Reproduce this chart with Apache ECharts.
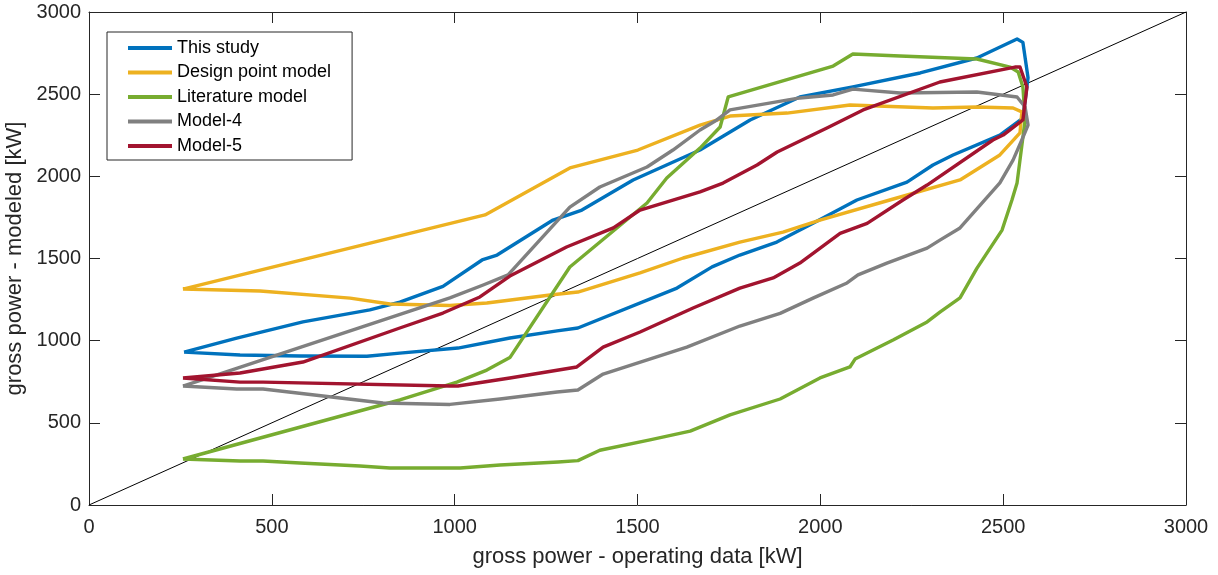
<!DOCTYPE html>
<html>
<head>
<meta charset="utf-8">
<script src="https://cdn.jsdelivr.net/npm/echarts@6/dist/echarts.min.js"></script>
<style>
html,body{margin:0;padding:0;background:#fff;}
#chart{width:1218px;height:575px;}
</style>
</head>
<body>
<div id="chart"></div>
<script>
// Tick values
const xTicks = [0, 500, 1000, 1500, 2000, 2500, 3000];
const yTicks = [0, 500, 1000, 1500, 2000, 2500, 3000];

// Series names
const seriesNames = ['This study', 'Design point model', 'Literature model', 'Model-4', 'Model-5'];

// [operating data kW, modeled kW] loops
const thisStudy = [[260,930],[413,913],[577,907],[760,905],[850,924],[1009,955],[1151,1016],[1280,1060],[1337,1077],[1608,1320],[1704,1449],[1780,1521],[1881,1600],[1980,1714],[2100,1856],[2237,1965],[2308,2069],[2363,2130],[2491,2251],[2554,2355],[2568,2600],[2554,2815],[2538,2836],[2428,2720],[2273,2629],[2089,2544],[1944,2483],[1808,2343],[1671,2160],[1488,1978],[1348,1795],[1269,1734],[1116,1521],[1075,1491],[968,1330],[850,1235],[768,1187],[585,1114],[404,1016],[260,930]];

const designPoint = [[257,1314],[468,1302],[714,1259],[823,1223],[987,1214],[1088,1229],[1261,1278],[1337,1296],[1507,1412],[1625,1503],[1780,1600],[1898,1661],[1999,1734],[2190,1856],[2382,1978],[2491,2130],[2546,2264],[2551,2392],[2527,2416],[2428,2422],[2308,2416],[2081,2434],[1909,2385],[1753,2367],[1671,2312],[1501,2160],[1315,2051],[1083,1765],[257,1314]];

const literature = [[257,280],[413,268],[476,268],[577,256],[741,237],[823,225],[1015,225],[1124,243],[1283,262],[1337,270],[1397,333],[1534,396],[1644,450],[1753,548],[1890,645],[1999,773],[2081,840],[2095,888],[2199,1004],[2292,1114],[2327,1174],[2382,1260],[2428,1440],[2497,1673],[2524,1856],[2538,1960],[2560,2343],[2554,2544],[2541,2635],[2519,2665],[2428,2714],[2218,2732],[2089,2744],[2035,2671],[1748,2483],[1726,2300],[1671,2172],[1580,1990],[1526,1838],[1315,1448],[1151,897],[1088,821],[1006,748],[850,639],[257,280]];

const model4 = [[257,724],[404,706],[476,706],[804,621],[987,612],[1124,645],[1280,688],[1337,700],[1406,797],[1635,961],[1780,1089],[1890,1166],[1980,1259],[2073,1351],[2103,1400],[2182,1472],[2292,1563],[2327,1612],[2382,1686],[2491,1960],[2527,2099],[2551,2221],[2568,2312],[2560,2422],[2538,2483],[2428,2513],[2218,2507],[2089,2531],[2035,2495],[1944,2477],[1753,2404],[1717,2343],[1671,2282],[1597,2160],[1526,2057],[1397,1935],[1315,1813],[1146,1400],[1078,1339],[987,1260],[257,724]];

const model5 = [[257,773],[413,748],[476,748],[987,724],[1009,724],[1151,773],[1334,840],[1406,961],[1507,1053],[1652,1199],[1780,1320],[1871,1382],[1944,1472],[2018,1594],[2054,1653],[2128,1714],[2226,1856],[2292,1947],[2472,2221],[2500,2251],[2554,2343],[2565,2544],[2546,2665],[2532,2665],[2327,2574],[2117,2404],[2018,2294],[1882,2148],[1827,2069],[1734,1959],[1671,1905],[1507,1795],[1434,1686],[1306,1570],[1151,1393],[1069,1266],[968,1168],[850,1077],[585,870],[413,803],[257,773]];

const diagonal = [[0,0],[3000,3000]];

const colors = ['#0072BD', '#EDB120', '#77AC30', '#808080', '#A2142F'];
const dataSets = [thisStudy, designPoint, literature, model4, model5];

const axisColor = '#262626';
const fontFamily = '"Liberation Sans", Arial, Helvetica, sans-serif';

const chart = echarts.init(document.getElementById('chart'), null, {renderer: 'canvas'});

function baseX(pos, showLabel, nameText) {
  return {
    type: 'value', position: pos, min: xTicks[0], max: xTicks[xTicks.length - 1],
    interval: xTicks[1] - xTicks[0],
    axisLine: {show: true, onZero: false, lineStyle: {color: axisColor, width: 1}},
    axisTick: {show: true, inside: true, length: 11, lineStyle: {color: axisColor, width: 1}},
    splitLine: {show: false},
    axisLabel: {show: showLabel, color: axisColor, fontSize: 20, fontFamily: fontFamily, margin: 12,
      formatter: v => String(v)},
    name: nameText || '', nameLocation: 'middle', nameGap: 41,
    nameTextStyle: {color: axisColor, fontSize: 22, fontFamily: fontFamily}
  };
}
function baseY(pos, showLabel, nameText) {
  return {
    type: 'value', position: pos, min: yTicks[0], max: yTicks[yTicks.length - 1],
    interval: yTicks[1] - yTicks[0],
    axisLine: {show: true, onZero: false, lineStyle: {color: axisColor, width: 1}},
    axisTick: {show: true, inside: true, length: 11, lineStyle: {color: axisColor, width: 1}},
    splitLine: {show: false},
    axisLabel: {show: showLabel, color: axisColor, fontSize: 20, fontFamily: fontFamily, margin: 8,
      formatter: v => String(v)},
    name: nameText || '', nameLocation: 'middle', nameGap: 52,
    nameTextStyle: {color: axisColor, fontSize: 22, fontFamily: fontFamily}
  };
}

const series = [{
  name: 'diagonal', type: 'line', data: diagonal, showSymbol: false, silent: true,
  lineStyle: {color: '#000', width: 1}, z: 1, animation: false
}];
dataSets.forEach((d, i) => {
  series.push({
    name: seriesNames[i], type: 'line', data: d, showSymbol: false, smooth: false,
    lineStyle: {color: colors[i], width: 3.4, join: 'round'}, itemStyle: {color: colors[i]},
    z: 2 + i, animation: false
  });
});

chart.setOption({
  animation: false,
  backgroundColor: '#fff',
  grid: {left: 89, right: 32, top: 12, bottom: 70, containLabel: false, outerBoundsMode: 'none'},
  xAxis: [baseX('bottom', true, 'gross power - operating data [kW]'), baseX('top', false)],
  yAxis: [baseY('left', true, 'gross power - modeled [kW]'), baseY('right', false)],
  legend: {
    data: seriesNames, orient: 'vertical', left: 107, top: 32,
    icon: 'rect', itemWidth: 44, itemHeight: 4, itemGap: 6.5,
    padding: [7, 21, 5, 21], borderColor: axisColor, borderWidth: 1, backgroundColor: '#fff',
    textStyle: {color: '#000', fontSize: 18, fontFamily: fontFamily, padding: [0, 0, 0, 0]},
    selectedMode: false
  },
  series: series
});
</script>
</body>
</html>
